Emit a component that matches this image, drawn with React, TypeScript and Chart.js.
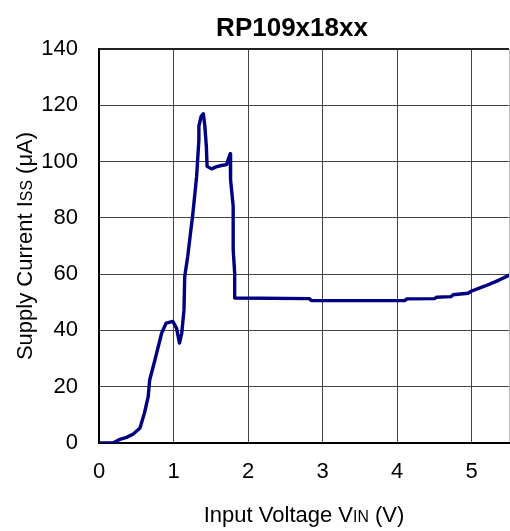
import React, { useEffect, useRef } from "react";
import { Chart, registerables } from "chart.js";

Chart.register(...registerables);

const TITLE = "RP109x18xx";
const X_TICKS = [0, 1, 2, 3, 4, 5];
const X_MAX = 5.5;
const Y_MAX = 140;
const Y_STEP = 20;

const voltage = [
  0, 0.19, 0.28, 0.37, 0.46, 0.55, 0.61, 0.66, 0.68, 0.75, 0.84, 0.9, 0.99, 1.04,
  1.08, 1.11, 1.14, 1.15, 1.19, 1.26, 1.31, 1.34, 1.34, 1.37, 1.4, 1.42, 1.44,
  1.45, 1.51, 1.57, 1.64, 1.71, 1.74, 1.76, 1.76, 1.77, 1.8, 1.8, 1.82, 1.82,
  2.82, 2.85, 4.1, 4.13, 4.5, 4.53, 4.72, 4.75, 4.95, 5.0, 5.18, 5.36, 5.5,
];
const current = [
  0, 0, 1.3, 2.0, 3.2, 5.3, 10.7, 16.5, 22.4, 29.5, 39, 42.6, 43.2, 40.8,
  35.5, 39, 47.3, 59.2, 66.3, 81.7, 94.8, 107.8, 112.6, 116.1, 117, 112.6, 105.4,
  98.3, 97.4, 98.1, 98.6, 98.9, 101.3, 102.8, 98.3, 93.6, 84.1, 68.7, 60.4, 51.5,
  51.3, 50.6, 50.6, 51.2, 51.3, 51.8, 52.0, 52.7, 53.2, 54.0, 55.8, 57.8, 59.6,
];

const FONT = '"Liberation Sans", Arial, sans-serif';

type Part = { text: string; scale: number };

function drawRich(ctx: CanvasRenderingContext2D, parts: Part[], cx: number, size: number) {
  let total = 0;
  const widths = parts.map((p) => {
    ctx.font = `${size * p.scale}px ${FONT}`;
    const w = ctx.measureText(p.text).width;
    total += w;
    return w;
  });
  let x = cx - total / 2;
  ctx.textAlign = "left";
  ctx.textBaseline = "alphabetic";
  parts.forEach((p, i) => {
    ctx.font = `${size * p.scale}px ${FONT}`;
    ctx.fillText(p.text, x, 0);
    x += widths[i];
  });
}

const textPlugin = {
  id: "customTexts",
  afterDraw(chart: any) {
    const ctx: CanvasRenderingContext2D = chart.ctx;
    const area = chart.chartArea;
    ctx.save();
    ctx.fillStyle = "#000";
    ctx.font = `bold 26px ${FONT}`;
    ctx.textAlign = "center";
    ctx.textBaseline = "middle";
    ctx.fillText(TITLE, 292, 29);

    ctx.save();
    ctx.translate(0, 522);
    drawRich(
      ctx,
      [
        { text: "Input Voltage V", scale: 1 },
        { text: "IN", scale: 0.72 },
        { text: " (V)", scale: 1 },
      ],
      (area.left + area.right) / 2,
      22
    );
    ctx.restore();

    ctx.save();
    ctx.translate(32, 246);
    ctx.rotate(-Math.PI / 2);
    drawRich(
      ctx,
      [
        { text: "Supply Current I", scale: 1 },
        { text: "SS", scale: 0.72 },
        { text: " (μA)", scale: 1 },
      ],
      0,
      22
    );
    ctx.restore();
    ctx.restore();
  },
};

function zeroPadding(s: any) {
  s.paddingLeft = 0;
  s.paddingRight = 0;
  s.paddingTop = 0;
  s.paddingBottom = 0;
}

export default function App() {
  const ref = useRef<HTMLCanvasElement | null>(null);

  useEffect(() => {
    if (!ref.current) return;
    const points = voltage.map((v, i) => ({ x: v, y: current[i] }));
    const chart = new Chart(ref.current, {
      type: "scatter",
      data: {
        datasets: [
          {
            data: points,
            showLine: true,
            borderColor: "#000080",
            borderWidth: 3.4,
            pointRadius: 0,
            tension: 0,
            borderJoinStyle: "round",
            borderCapStyle: "round",
          } as any,
        ],
      },
      options: {
        responsive: false,
        animation: false,
        layout: { padding: { top: 49, right: 1, left: 0, bottom: 0 } },
        plugins: {
          legend: { display: false },
          title: { display: false },
          tooltip: { enabled: false },
        },
        scales: {
          x: {
            type: "linear",
            min: 0,
            max: X_MAX,
            afterFit: (s: any) => {
              s.height = 88;
              zeroPadding(s);
            },
            afterBuildTicks: (s: any) => {
              s.ticks = [...X_TICKS, X_MAX].map((v) => ({ value: v }));
            },
            grid: {
              drawTicks: false,
              color: (c: any) => (c.tick && c.tick.value === X_MAX ? "#bdbdbd" : "#444"),
              lineWidth: 1,
            },
            border: { color: "#000", width: 2 },
            ticks: {
              padding: 16,
              color: "#000",
              font: { family: FONT, size: 22 },
              maxRotation: 0,
              autoSkip: false,
              callback: (v: any) => (X_TICKS.includes(Number(v)) ? String(v) : ""),
            },
          },
          y: {
            min: 0,
            max: Y_MAX,
            afterFit: (s: any) => {
              s.width = 99;
              zeroPadding(s);
            },
            grid: {
              drawTicks: false,
              color: (c: any) => (c.tick && c.tick.value === Y_MAX ? "#222" : "#444"),
              lineWidth: (c: any) => (c.tick && c.tick.value === Y_MAX ? 2 : 1),
            },
            border: { color: "#000", width: 2 },
            ticks: {
              stepSize: Y_STEP,
              padding: 21,
              color: "#000",
              font: { family: FONT, size: 22 },
            },
          },
        },
      },
      plugins: [textPlugin],
    });
    return () => chart.destroy();
  }, []);

  return (
    <div style={{ position: "fixed", left: 0, top: 0, width: 510, height: 531, background: "#fff" }}>
      <canvas ref={ref} width={510} height={531} style={{ display: "block" }} />
    </div>
  );
}
